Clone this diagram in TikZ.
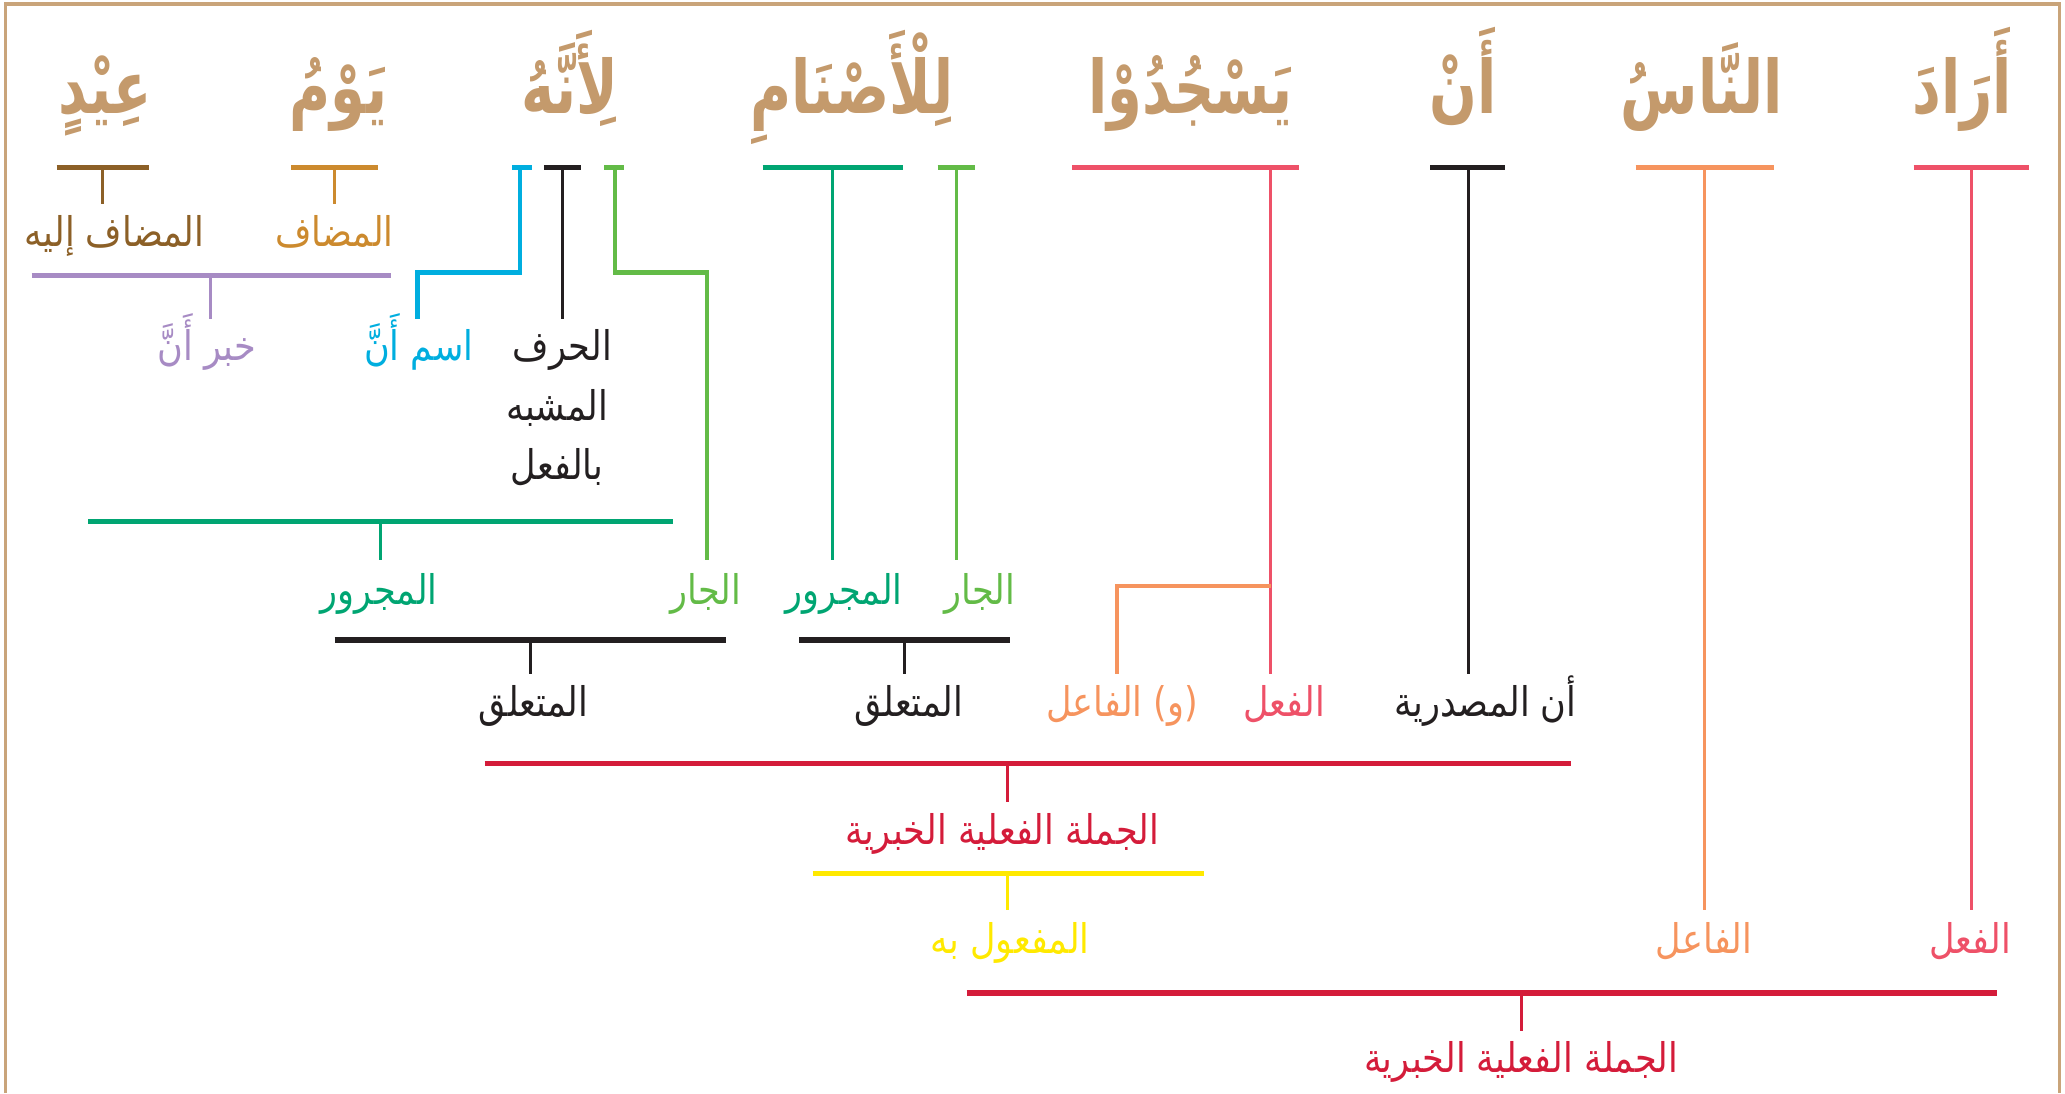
\documentclass[tikz,border=0pt]{standalone}
\usepackage{fontspec}
\newfontfamily\arb[Script=Arabic,FakeStretch=0.86]{DejaVu Sans}
\newfontfamily\arbw[Script=Arabic,FakeStretch=0.76]{DejaVu Sans}
\TeXXeTstate=1
\definecolor{ctan}{HTML}{C49A6C}
\definecolor{cborder}{HTML}{C9A47A}
\definecolor{cpink}{HTML}{EE5168}
\definecolor{corange}{HTML}{F6945E}
\definecolor{cblack}{HTML}{231F20}
\definecolor{cdgreen}{HTML}{00A572}
\definecolor{clgreen}{HTML}{63BB47}
\definecolor{cblue}{HTML}{00AEDF}
\definecolor{cpurple}{HTML}{A78BC4}
\definecolor{cochre}{HTML}{CC8A2E}
\definecolor{cbrown}{HTML}{8C6027}
\definecolor{ccrimson}{HTML}{D41C3A}
\definecolor{cyellow}{HTML}{FFE900}
\begin{document}
\begin{tikzpicture}[x=1pt,y=-1pt,
  wrd/.style={font=\arbw\bfseries\fontsize{56}{62}\selectfont, text=ctan, anchor=base, inner sep=0pt},
  lab/.style={font=\arb\fontsize{31}{36}\selectfont, anchor=base, inner sep=0pt},
  hbar/.style={line width=4pt},
  vstem/.style={line width=2.4pt},
  lbar/.style={line width=3.4pt}]
\useasboundingbox (0,0) rectangle (1568,830);
\draw[cborder, line width=2.5pt] (4,830) -- (4,3) -- (1564,3) -- (1564,830);

% top words
\node[wrd] (w1) at (1490,86) {\beginR أَرَادَ\endR};
\node[wrd] (w2) at (1292,86) {\beginR النَّاسُ\endR};
\node[wrd] (w3) at (1111,86) {\beginR أَنْ\endR};
\node[wrd] (w4) at (904,86) {\beginR يَسْجُدُوْا\endR};
\node[wrd] (w5) at (647,86) {\beginR لِلْأَصْنَامِ\endR};
\node[wrd] (w6) at (433,86) {\beginR لِأَنَّهُ\endR};
\node[wrd] (w7) at (257,86) {\beginR يَوْمُ\endR};
\node[wrd] (w8) at (80,86) {\beginR عِيْدٍ\endR};

% labels
\node[lab, text=cpink] (l1) at (1496,724) {\beginR الفعل\endR};
\node[lab, text=corange] (l2) at (1294,724) {\beginR الفاعل\endR};
\node[lab, text=cblack] (l3) at (1128,544) {\beginR أن المصدرية\endR};
\node[lab, text=cpink] (l4) at (975,544) {\beginR الفعل\endR};
\node[lab, text=corange] (l5) at (852,544) {\beginR (و) الفاعل\endR};
\node[lab, text=cdgreen] (l6) at (641,459) {\beginR المجرور\endR};
\node[lab, text=clgreen] (l7) at (744,459) {\beginR الجار\endR};
\node[lab, text=cblue] (l8) at (318,274) {\beginR اسم أَنَّ\endR};
\node[lab, text=cblack] (l9a) at (427,274) {\beginR الحرف\endR};
\node[lab, text=cblack] (l9b) at (423,319) {\beginR المشبه\endR};
\node[lab, text=cblack] (l9c) at (423,364) {\beginR بالفعل\endR};
\node[lab, text=clgreen] (l10) at (536,459) {\beginR الجار\endR};
\node[lab, text=cochre] (l11) at (254,187) {\beginR المضاف\endR};
\node[lab, text=cbrown] (l12) at (87,187) {\beginR المضاف إليه\endR};
\node[lab, text=cpurple] (l13) at (157,274) {\beginR خبر أَنَّ\endR};
\node[lab, text=cdgreen] (l14) at (288,459) {\beginR المجرور\endR};
\node[lab, text=cblack] (l15) at (405,544) {\beginR المتعلق\endR};
\node[lab, text=cblack] (l16) at (690,544) {\beginR المتعلق\endR};
\node[lab, text=ccrimson] (l17) at (761,641) {\beginR الجملة الفعلية الخبرية\endR};
\node[lab, text=cyellow] (l18) at (767,724) {\beginR المفعول به\endR};
\node[lab, text=ccrimson] (l19) at (1155,814) {\beginR الجملة الفعلية الخبرية\endR};

% top bars and stems
\draw[cpink, hbar] (1453,127) -- (1541,127);
\draw[cpink, vstem] (1497,127) -- (1497,691);
\draw[corange, hbar] (1242,127) -- (1347,127);
\draw[corange, vstem] (1294,127) -- (1294,691);
\draw[cblack, hbar] (1086,127) -- (1143,127);
\draw[cblack, vstem] (1115,127) -- (1115,512);
\draw[cpink, hbar] (814,127) -- (986,127);
\draw[cpink, vstem] (965,127) -- (965,512);
\draw[corange, lbar] (965,445) -| (848,512);
\draw[cdgreen, hbar] (579,127) -- (686,127);
\draw[cdgreen, vstem] (632,127) -- (632,425);
\draw[clgreen, hbar] (712,127) -- (740,127);
\draw[clgreen, vstem] (726,127) -- (726,425);
\draw[cblue, hbar] (389,127) -- (404,127);
\draw[cblue, lbar] (395,127) -- (395,207) -| (317,242);
\draw[cblack, hbar] (413,127) -- (441,127);
\draw[cblack, vstem] (427,127) -- (427,242);
\draw[clgreen, hbar] (459,127) -- (474,127);
\draw[clgreen, lbar] (467,127) -- (467,207) -| (537,425);
\draw[cochre, hbar] (221,127) -- (287,127);
\draw[cochre, vstem] (254,127) -- (254,155);
\draw[cbrown, hbar] (43,127) -- (113,127);
\draw[cbrown, vstem] (78,127) -- (78,155);

% lower bars
\draw[cpurple, hbar] (24,209) -- (297,209);
\draw[cpurple, vstem] (160,209) -- (160,242);
\draw[cdgreen, hbar] (67,396) -- (511,396);
\draw[cdgreen, vstem] (289,396) -- (289,425);
\draw[cblack, hbar] (254,486) -- (551,486);
\draw[cblack, vstem] (403,486) -- (403,512);
\draw[cblack, hbar] (607,486) -- (767,486);
\draw[cblack, vstem] (687,486) -- (687,512);
\draw[ccrimson, hbar] (368,580) -- (1193,580);
\draw[ccrimson, vstem] (765,580) -- (765,609);
\draw[cyellow, hbar] (617,663) -- (914,663);
\draw[cyellow, vstem] (765,663) -- (765,691);
\draw[ccrimson, hbar] (734,754) -- (1516,754);
\draw[ccrimson, vstem] (1155,754) -- (1155,783);
\end{tikzpicture}
\end{document}
